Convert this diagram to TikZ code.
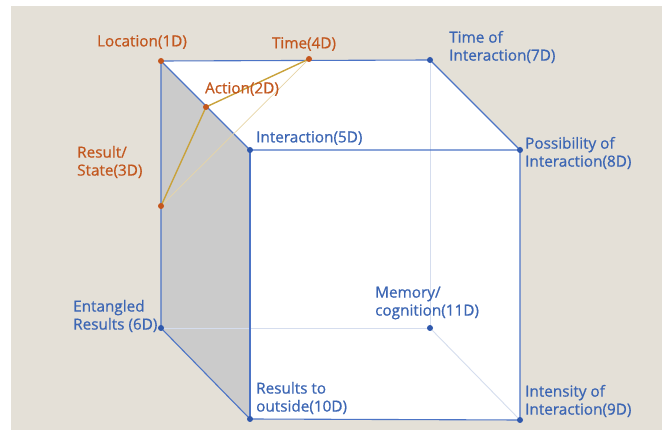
\documentclass[tikz,border=0pt]{standalone}
\usepackage{fontspec}
\setmainfont{Open Sans}[UprightFeatures={FakeBold=0.7}]
\definecolor{bg}{HTML}{E4E0D7}
\definecolor{edgeblue}{HTML}{4C74C6}
\definecolor{dotblue}{HTML}{2F58AC}
\definecolor{txtblue}{HTML}{3C66B4}
\definecolor{txtor}{HTML}{C2571E}
\definecolor{dotor}{HTML}{C4561C}
\definecolor{gold}{HTML}{C9A23A}
\definecolor{hidden}{HTML}{D5DDEE}
\definecolor{facegrey}{HTML}{CBCBCB}
\begin{document}
\begin{tikzpicture}[x=1pt,y=-1pt,
  bdot/.style={circle,fill=dotblue,inner sep=0pt,minimum size=6pt},
  odot/.style={circle,fill=dotor,inner sep=0pt,minimum size=6pt},
  edge/.style={draw=edgeblue,line width=1.1pt},
  hid/.style={draw=hidden,line width=0.9pt},
  blab/.style={text=txtblue,font=\fontsize{15.3}{18}\selectfont,align=left,inner sep=0pt},
  olab/.style={text=txtor,font=\fontsize{15.3}{18}\selectfont,align=left,inner sep=0pt}]
\useasboundingbox (0,0) rectangle (662,430);
\fill[white] (0,0) rectangle (662,430);
\fill[bg] (11,6) rectangle (662,430);
% points
\coordinate (p1) at (161,61);
\coordinate (p2) at (206,107);
\coordinate (p3) at (161,206);
\coordinate (p4) at (309,59);
\coordinate (p5) at (250,150);
\coordinate (p6) at (161,328);
\coordinate (p7) at (430,60);
\coordinate (p8) at (520,150);
\coordinate (p9) at (520,420);
\coordinate (p10) at (250,419);
\coordinate (p11) at (430,328);
% faces
\fill[white] (p1) -- (p7) -- (p8) -- (p9) -- (p10) -- (p5) -- cycle;
\fill[facegrey] (p1) -- (p5) -- (p10) -- (p6) -- cycle;
% hidden edges
\draw[hid] (p7) -- (p11);
\draw[hid] (p6) -- (p11);
\draw[hid] (p11) -- (p9);
% visible edges
\draw[edge] (p1) -- (p7) -- (p8) -- (p9) -- (p10) -- (p6) -- cycle;
\draw[edge] (p1) -- (p5) -- (p8);
\draw[edge] (p5) -- (p10);
% orange lines
\draw[gold!45,line width=0.7pt] (p3) -- (p4);
\draw[gold,line width=1.4pt] (p3) -- (p2) -- (p4);
% dots
\node[odot] (d1) at (p1) {};
\node[odot] (d2) at (p2) {};
\node[odot] (d3) at (p3) {};
\node[odot] (d4) at (p4) {};
\node[bdot] (d5) at (p5) {};
\node[bdot] (d6) at (p6) {};
\node[bdot] (d7) at (p7) {};
\node[bdot] (d8) at (p8) {};
\node[bdot] (d9) at (p9) {};
\node[bdot] (d10) at (p10) {};
\node[bdot] (d11) at (p11) {};
% labels
\node[olab] (l1) at (142,42) {Location(1D)};
\node[olab] (l4) at (304,44) {Time(4D)};
\node[olab] (l2) at (242,89) {Action(2D)};
\node[olab,anchor=west] (l3) at (77,162) {Result/\\State(3D)};
\node[blab,anchor=west] (l5) at (256,138) {Interaction(5D)};
\node[blab,anchor=west] (l7) at (449,47) {Time of\\Interaction(7D)};
\node[blab,anchor=west] (l8) at (525,153) {Possibility of\\Interaction(8D)};
\node[blab,anchor=west] (l6) at (73,316) {Entangled\\Results (6D)};
\node[blab,anchor=west] (l11) at (375,303) {Memory/\\cognition(11D)};
\node[blab,anchor=west] (l10) at (256,398) {Results to\\outside(10D)};
\node[blab,anchor=west] (l9) at (525,401) {Intensity of\\Interaction(9D)};
\end{tikzpicture}
\end{document}
